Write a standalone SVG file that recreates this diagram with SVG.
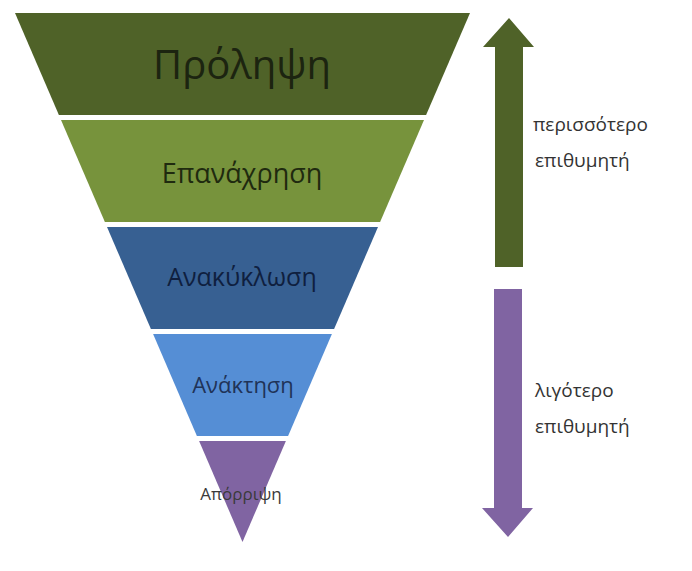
<svg xmlns="http://www.w3.org/2000/svg" width="692" height="571" viewBox="0 0 692 571">
<style>
.t{font-family:"Open Sans","DejaVu Sans",sans-serif;text-anchor:middle}
.s{font-family:"Open Sans","DejaVu Sans",sans-serif;font-size:19px;fill:#333333}
</style>
<rect width="692" height="571" fill="#ffffff"/>
<g id="band-prolipsi">
<polygon points="15,13 470,13 426.1,115 58.9,115" fill="#4F6228"/>
<text class="t" x="242" y="79" font-size="40" fill="#1C2410">Πρόληψη</text>
</g>
<g id="band-epanachrisi">
<polygon points="61,120 424,120 380.1,222 104.9,222" fill="#77933C"/>
<text class="t" x="242" y="183" font-size="27" fill="#1F2A0F">Επανάχρηση</text>
</g>
<g id="band-anakyklosi">
<polygon points="107,227 378,227 334.1,329 150.9,329" fill="#376092"/>
<text class="t" x="242" y="286" font-size="25" fill="#0F1F3F">Ανακύκλωση</text>
</g>
<g id="band-anaktisi">
<polygon points="153.1,334 331.9,334 288.1,436 196.9,436" fill="#558ED5"/>
<text class="t" x="243" y="393" font-size="22" fill="#1F3358">Ανάκτηση</text>
</g>
<g id="band-aporripsi">
<polygon points="199.1,441 285.9,441 242.5,542" fill="#8064A2"/>
<text class="t" x="241" y="500" font-size="17" fill="#3A3A3A">Απόρριψη</text>
</g>
<g id="connectors">
<polygon points="495,267 523,267 523,47 534,47 509,18 483,47 495,47" fill="#4F6228"/>
<polygon points="494,289 522,289 522,508 533,508 508,537 482,508 494,508" fill="#8064A2"/>
</g>
<g id="labels">
<text class="s" x="533" y="131">περισσότερο</text>
<text class="s" x="535" y="167">επιθυμητή</text>
<text class="s" x="535" y="397">λιγότερο</text>
<text class="s" x="535" y="433">επιθυμητή</text>
</g>
</svg>
